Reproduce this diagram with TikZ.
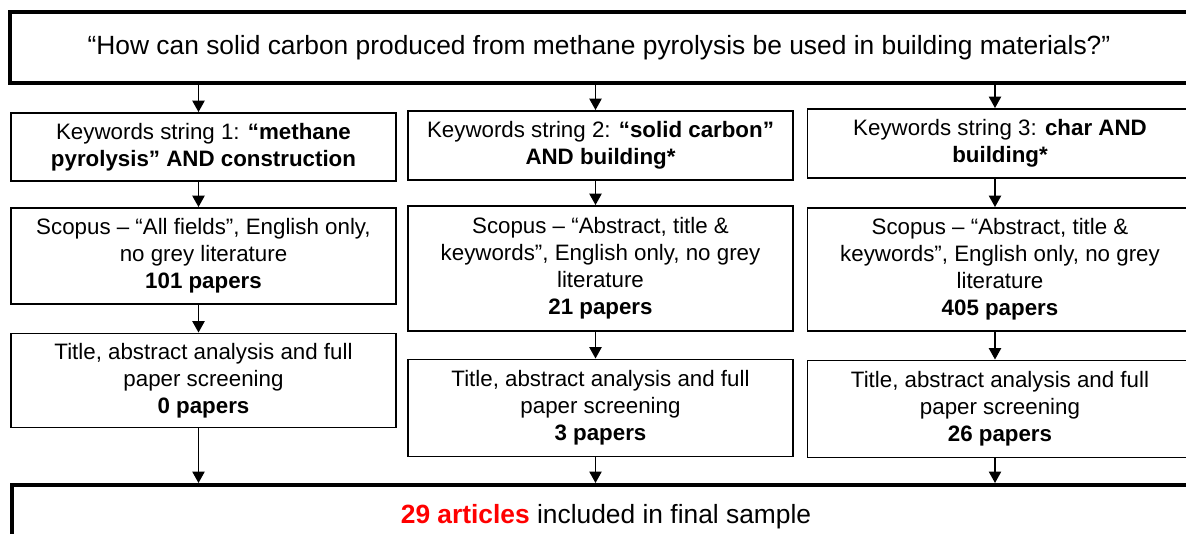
\documentclass[tikz,border=0pt]{standalone}
\usepackage{fontspec}
\setmainfont{Liberation Sans}
\usepackage{tikz}
\usetikzlibrary{arrows.meta,positioning}
\definecolor{srred}{RGB}{255,0,0}
\tikzstyle{question} = [rectangle, draw=black, line width=2.3pt, minimum width=23.56cm, minimum height=1.42cm, text centered, font=\fontsize{15}{18}\selectfont]
\tikzstyle{stepbox} = [rectangle, draw=black, line width=1.1pt, minimum width=7.7cm, align=center, font=\fontsize{12.7}{15.4}\selectfont]
\tikzstyle{arrow} = [line width=0.8pt, -{Triangle[width=7pt,length=6.5pt]}]

\begin{document}
\begin{tikzpicture}
\useasboundingbox (0,0) rectangle (23.72,-10.68);
\node (question) [question] at (11.98,-0.95) {“How can solid carbon produced from methane pyrolysis be used in building materials?”};

% keyword strings
\node (kw1) [stepbox, minimum height=1.36cm] at (4.07,-2.94) {Keywords string 1: \textbf{“methane}\\\textbf{pyrolysis” AND construction}};
\node (kw2) [stepbox, minimum height=1.38cm] at (12.01,-2.91) {Keywords string 2: \textbf{“solid carbon”}\\\textbf{AND building*}};
\node (kw3) [stepbox, minimum height=1.38cm] at (20.0,-2.87) {Keywords string 3: \textbf{char AND}\\\textbf{building*}};

% scopus searches
\node (sc1) [stepbox, minimum height=1.92cm] at (4.07,-5.12) {Scopus – “All fields”, English only,\\no grey literature\\\textbf{101 papers}};
\node (sc2) [stepbox, minimum height=2.5cm] at (12.01,-5.37) {Scopus – “Abstract, title \&\\keywords”, English only, no grey\\literature\\\textbf{21 papers}};
\node (sc3) [stepbox, minimum height=2.46cm] at (20.0,-5.39) {Scopus – “Abstract, title \&\\keywords”, English only, no grey\\literature\\\textbf{405 papers}};

% screening
\node (ti1) [stepbox, minimum height=1.88cm] at (4.07,-7.61) {Title, abstract analysis and full\\paper screening\\\textbf{0 papers}};
\node (ti2) [stepbox, minimum height=1.94cm] at (12.01,-8.16) {Title, abstract analysis and full\\paper screening\\\textbf{3 papers}};
\node (ti3) [stepbox, minimum height=1.94cm] at (20.0,-8.18) {Title, abstract analysis and full\\paper screening\\\textbf{26 papers}};

\node (sample) [question, minimum width=23.76cm, minimum height=1.28cm] at (12.12,-10.34) {\textcolor{srred}{\textbf{29 articles}} included in final sample};

\foreach \c in {1,2,3} {
  \draw[arrow] ([xshift=-1mm]question.south -| kw\c.north) -- ([xshift=-1mm]kw\c.north);
  \draw[arrow] ([xshift=-1mm]kw\c.south) -- ([xshift=-1mm]sc\c.north);
  \draw[arrow] ([xshift=-1mm]sc\c.south) -- ([xshift=-1mm]ti\c.north);
  \draw[arrow] ([xshift=-1mm]ti\c.south) -- ([xshift=-1mm]sample.north -| ti\c.south);
}
\end{tikzpicture}
\end{document}
